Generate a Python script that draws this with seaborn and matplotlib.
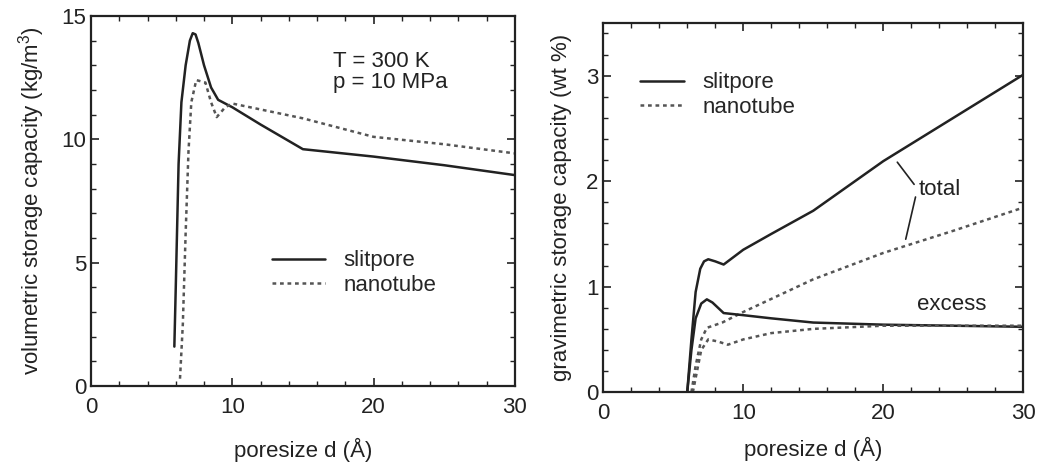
import matplotlib
matplotlib.use("Agg")
import matplotlib.pyplot as plt
from matplotlib.ticker import MultipleLocator
import seaborn as sns
import pandas as pd

# ---- left panel: volumetric storage capacity (kg/m^3) ----
vol_slit_d = [5.9, 6.0, 6.2, 6.4, 6.7, 7.0, 7.2, 7.4, 7.6, 8.0, 8.5, 9.0, 10.0, 12.0, 15.0, 20.0, 25.0, 30.0]
vol_slit_v = [1.6, 4.0, 9.0, 11.5, 13.0, 14.0, 14.3, 14.25, 13.9, 13.0, 12.1, 11.6, 11.3, 10.6, 9.6, 9.3, 8.95, 8.55]
vol_tube_d = [6.3, 6.5, 6.7, 6.9, 7.1, 7.45, 8.1, 8.5, 8.9, 9.5, 10.0, 15.0, 20.0, 25.0, 30.0]
vol_tube_v = [0.3, 2.5, 6.2, 9.5, 11.5, 12.4, 12.3, 11.5, 10.9, 11.3, 11.45, 10.85, 10.1, 9.8, 9.43]

# ---- right panel: gravimetric storage capacity (wt %) ----
tot_slit_d = [6.0, 6.3, 6.6, 6.93, 7.2, 7.5, 8.0, 8.6, 9.0, 10.0, 12.0, 15.0, 20.0, 25.0, 30.0]
tot_slit_v = [0.0, 0.5, 0.95, 1.17, 1.24, 1.26, 1.24, 1.21, 1.25, 1.35, 1.50, 1.72, 2.19, 2.60, 3.01]
tot_tube_d = [6.3, 6.6, 7.0, 7.4, 8.5, 10.0, 15.0, 20.0, 25.0, 30.0]
tot_tube_v = [0.0, 0.25, 0.5, 0.61, 0.66, 0.76, 1.07, 1.32, 1.53, 1.75]
exc_slit_d = [6.0, 6.3, 6.6, 7.0, 7.4, 7.8, 8.6, 10.0, 12.0, 15.0, 20.0, 30.0]
exc_slit_v = [0.0, 0.4, 0.7, 0.84, 0.88, 0.85, 0.75, 0.73, 0.70, 0.66, 0.64, 0.62]
exc_tube_d = [6.4, 6.7, 7.0, 7.5, 8.2, 8.9, 10.0, 12.0, 15.0, 20.0, 30.0]
exc_tube_v = [0.0, 0.2, 0.4, 0.50, 0.48, 0.45, 0.50, 0.56, 0.60, 0.63, 0.63]

series_names = ["slitpore", "nanotube"]
x_label = "poresize d (Å)"
y_label_left = "volumetric storage capacity (kg/m$^3$)"
y_label_right = "gravimetric storage capacity (wt %)"

sns.set_style("ticks")
plt.rcParams["font.family"] = ["Liberation Sans", "DejaVu Sans"]
plt.rcParams["mathtext.fontset"] = "custom"
plt.rcParams["mathtext.rm"] = "Liberation Sans"

fig = plt.figure(figsize=(10.4, 4.68), dpi=100)
ax1 = fig.add_axes([0.0875, 0.175, 0.4075, 0.791])
ax2 = fig.add_axes([0.580, 0.162, 0.404, 0.789])

slit_kw = dict(color="#222222", linewidth=1.8)
tube_kw = dict(color="#555555", linewidth=1.8, linestyle=(0, (1.5, 1.5)))

df_vs = pd.DataFrame({"d": vol_slit_d, "v": vol_slit_v})
df_vt = pd.DataFrame({"d": vol_tube_d, "v": vol_tube_v})
sns.lineplot(data=df_vs, x="d", y="v", ax=ax1, label=series_names[0], sort=False, **slit_kw)
sns.lineplot(data=df_vt, x="d", y="v", ax=ax1, label=series_names[1], sort=False, **tube_kw)

df_ts = pd.DataFrame({"d": tot_slit_d, "v": tot_slit_v})
df_tt = pd.DataFrame({"d": tot_tube_d, "v": tot_tube_v})
df_es = pd.DataFrame({"d": exc_slit_d, "v": exc_slit_v})
df_et = pd.DataFrame({"d": exc_tube_d, "v": exc_tube_v})
sns.lineplot(data=df_ts, x="d", y="v", ax=ax2, label=series_names[0], sort=False, **slit_kw)
sns.lineplot(data=df_tt, x="d", y="v", ax=ax2, label=series_names[1], sort=False, **tube_kw)
sns.lineplot(data=df_es, x="d", y="v", ax=ax2, sort=False, **slit_kw)
sns.lineplot(data=df_et, x="d", y="v", ax=ax2, sort=False, **tube_kw)

fs = 16
for ax, lp in ((ax1, 14), (ax2, 9)):
    ax.set_xlim(0, 30)
    ax.xaxis.set_major_locator(MultipleLocator(10))
    ax.xaxis.set_minor_locator(MultipleLocator(2))
    ax.tick_params(which="both", direction="in", top=True, right=True, labelsize=fs, colors="#222222")
    ax.tick_params(which="major", length=6, width=1.2)
    ax.tick_params(which="minor", length=3.5, width=1.0)
    ax.tick_params(axis="x", which="major", pad=8)
    for s in ax.spines.values():
        s.set_linewidth(1.6)
        s.set_color("#222222")
    ax.set_xlabel(x_label, fontsize=fs, labelpad=lp, color="#222222")

ax1.set_ylim(0, 15)
ax1.yaxis.set_major_locator(MultipleLocator(5))
ax1.yaxis.set_minor_locator(MultipleLocator(1))
ax1.set_ylabel(y_label_left, fontsize=fs, color="#222222", labelpad=10)

ax2.set_ylim(0, 3.5)
ax2.yaxis.set_major_locator(MultipleLocator(1))
ax2.yaxis.set_minor_locator(MultipleLocator(0.2))
ax2.set_ylabel(y_label_right, fontsize=fs, color="#222222", labelpad=10)

ax1.legend(loc="lower left", bbox_to_anchor=(0.38, 0.19), frameon=False, fontsize=fs,
           handlelength=2.4, handletextpad=0.8, labelspacing=0.15)
ax2.legend(loc="upper left", bbox_to_anchor=(0.04, 0.92), frameon=False, fontsize=fs,
           handlelength=2.0, handletextpad=0.8, labelspacing=0.15)

ax1.text(0.57, 0.905, "T = 300 K\np = 10 MPa", transform=ax1.transAxes, fontsize=fs,
         va="top", ha="left", linespacing=1.0, color="#222222")

ax2.text(22.5, 1.92, "total", fontsize=fs, va="center", ha="left", color="#222222")
ax2.text(22.4, 0.83, "excess", fontsize=fs, va="center", ha="left", color="#222222")
ax2.plot([21.0, 22.2], [2.18, 1.97], color="#222222", linewidth=1.2)
ax2.plot([22.3, 21.6], [1.85, 1.45], color="#222222", linewidth=1.2)

fig.savefig("out.png", dpi=100)
